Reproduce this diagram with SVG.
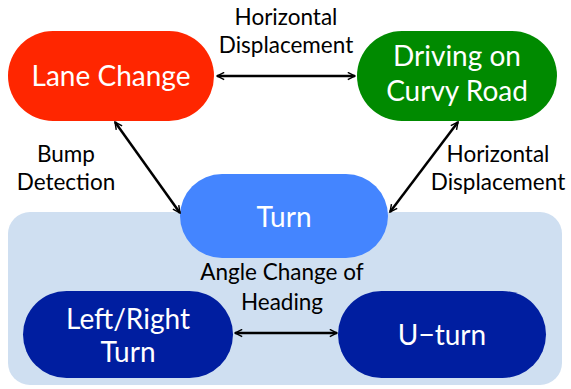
<svg xmlns="http://www.w3.org/2000/svg" width="571" height="389" viewBox="0 0 571 389">
  <defs>
    <marker id="arrow" viewBox="0 0 10 10" refX="9" refY="5" markerWidth="9" markerHeight="9" markerUnits="userSpaceOnUse" orient="auto-start-reverse">
      <path d="M1,1 L9,5 L1,9" fill="none" stroke="#000" stroke-width="1.6"/>
    </marker>
    <style>
      .node text { font-family: Lato, "Open Sans", sans-serif; font-size: 28px; fill: #fff; text-anchor: middle; }
      .label { font-family: Lato, "Open Sans", sans-serif; font-size: 22.5px; fill: #000; text-anchor: middle; }
      .edge { stroke: #000; stroke-width: 2.5; fill: none; marker-start: url(#arrow); marker-end: url(#arrow); }
    </style>
  </defs>

  <!-- turn sub-category region -->
  <rect id="turn-group" x="8" y="212" width="554" height="173" rx="22" fill="#cfdff1"/>

  <g id="edge-labels">
    <text class="label" x="286" y="25">Horizontal</text>
    <text class="label" x="286" y="53">Displacement</text>
    <text class="label" x="66" y="162">Bump</text>
    <text class="label" x="66" y="190">Detection</text>
    <text class="label" x="498" y="162">Horizontal</text>
    <text class="label" x="498" y="190">Displacement</text>
    <text class="label" x="282" y="280">Angle Change of</text>
    <text class="label" x="282" y="310">Heading</text>
  </g>

  <g id="lane-change" class="node">
    <rect x="8" y="31" width="206" height="90" rx="45" fill="#ff2600"/>
    <text x="111" y="86">Lane Change</text>
  </g>

  <g id="curvy-road" class="node">
    <rect x="357" y="31" width="200" height="90" rx="45" fill="#008a00"/>
    <text x="457" y="66">Driving on</text>
    <text x="457" y="101">Curvy Road</text>
  </g>

  <g id="turn" class="node">
    <rect x="180" y="174" width="208" height="84" rx="42" fill="#4485ff"/>
    <text x="284" y="227">Turn</text>
  </g>

  <g id="left-right-turn" class="node">
    <rect x="23" y="291" width="210" height="87" rx="43.5" fill="#001ea0"/>
    <text x="128" y="329">Left/Right</text>
    <text x="128" y="362">Turn</text>
  </g>

  <g id="u-turn" class="node">
    <rect x="338" y="291" width="208" height="87" rx="43.5" fill="#001ea0"/>
    <text x="442" y="345">U−turn</text>
  </g>

  <g id="connectors">
    <line class="edge" x1="217" y1="76" x2="355" y2="76"/>
    <line class="edge" x1="115" y1="122" x2="180" y2="213"/>
    <line class="edge" x1="458" y1="122" x2="390" y2="212"/>
    <line class="edge" x1="235" y1="333" x2="337" y2="333"/>
  </g>
</svg>
